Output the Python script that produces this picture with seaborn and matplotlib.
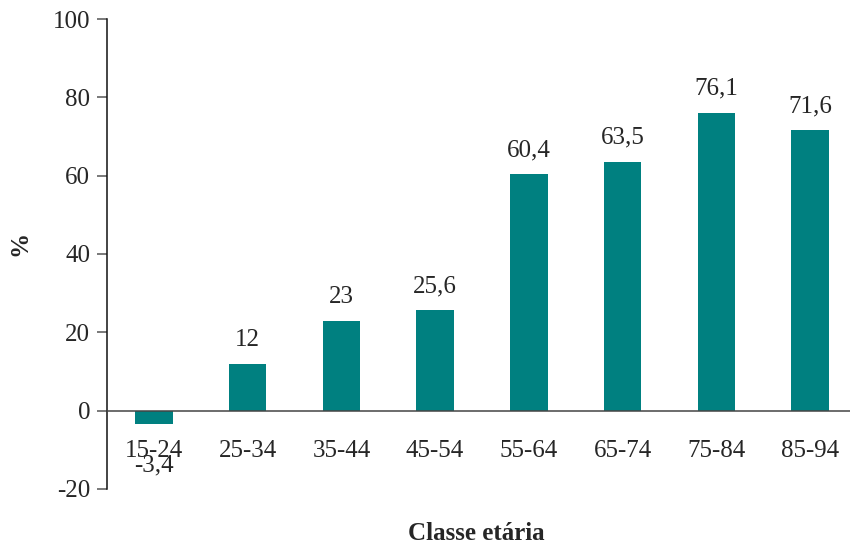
import matplotlib
matplotlib.use("Agg")
import matplotlib.pyplot as plt
import seaborn as sns
import pandas as pd
from matplotlib.ticker import FixedLocator

# Age classes and percentage values
classes = ["15-24", "25-34", "35-44", "45-54", "55-64", "65-74", "75-84", "85-94"]
values = [-3.4, 12, 23, 25.6, 60.4, 63.5, 76.1, 71.6]
y_ticks = [-20, 0, 20, 40, 60, 80, 100]

sns.set_style("white")
plt.rcParams["font.family"] = ["Liberation Serif", "DejaVu Serif"]

FS = 18

df = pd.DataFrame({"classe": classes, "valor": values})

fig = plt.figure(figsize=(8.5, 5.5), dpi=100)
ax = fig.add_axes([107 / 850, 1 - 489 / 550, (857 - 107) / 850, (489 - 19) / 550])

sns.barplot(data=df, x="classe", y="valor", color="#008080", saturation=1,
            width=0.4, linewidth=0, ax=ax, order=classes)

ax.set_ylim(-20, 100)
ax.set_xlim(-0.5, len(classes) - 0.5)
ax.set_yticks(y_ticks)
ax.set_yticklabels([str(t) for t in y_ticks], fontsize=FS)

# Category axis drawn along zero, with ticks between categories
for side in ("top", "right"):
    ax.spines[side].set_visible(False)
ax.spines["bottom"].set_position(("data", 0))
ax.spines["bottom"].set_color("#444444")
ax.spines["bottom"].set_linewidth(1.1)
ax.spines["left"].set_color("#111111")
ax.spines["left"].set_linewidth(1.1)

ax.tick_params(axis="x", which="major", length=0, pad=21, labelsize=FS)
ax.xaxis.set_minor_locator(FixedLocator([i + 0.5 for i in range(len(classes) - 1)]))
ax.tick_params(axis="x", which="minor", direction="out", length=7, width=1.1,
               color="#222222")
ax.tick_params(axis="y", direction="out", length=7, width=1.1, color="#555555",
               left=True, pad=5)

ax.set_xlabel("")
ax.set_ylabel("")

# Value labels
for i, v in enumerate(values):
    txt = f"{v:g}".replace(".", ",")
    if v >= 0:
        ax.annotate(txt, (i, v), xytext=(0, 13), textcoords="offset points",
                    ha="center", va="baseline", fontsize=FS)
    else:
        ax.annotate(txt, (i, v), xytext=(0, -34.5), textcoords="offset points",
                    ha="center", va="baseline", fontsize=FS)

fig.text(20 / 850, 1 - 243 / 550, "%", rotation=90, ha="center", va="center",
         fontsize=FS, fontweight="bold")
fig.text(476 / 850, 1 - 533 / 550, "Classe etária", ha="center", va="center",
         fontsize=FS, fontweight="bold")

fig.savefig("out.png", dpi=100)
